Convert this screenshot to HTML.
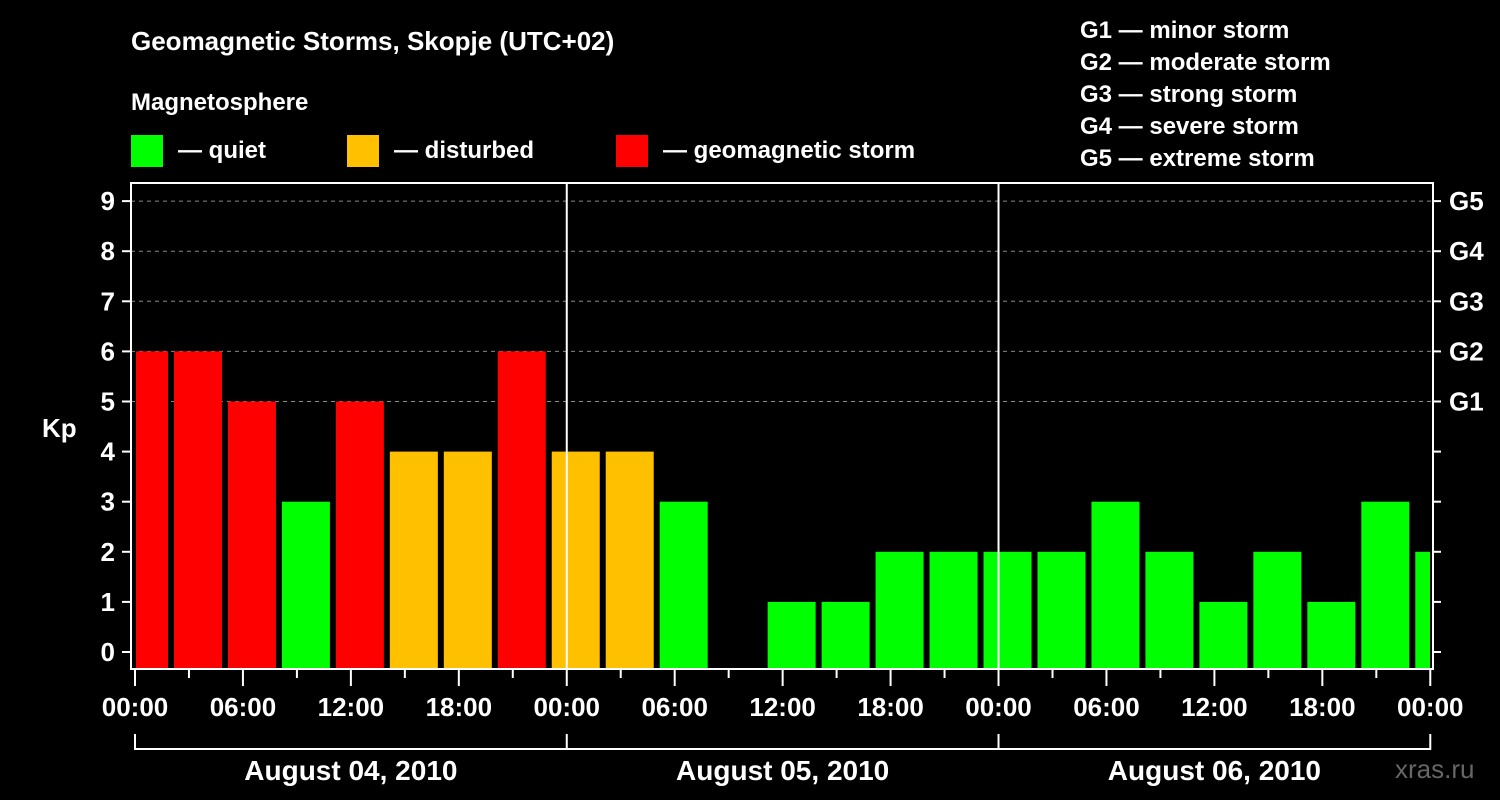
<!DOCTYPE html>
<html><head><meta charset="utf-8"><style>
html,body{margin:0;padding:0;background:#000;}
svg{display:block;font-family:"Liberation Sans",Arial,sans-serif;font-weight:bold;}
</style></head><body>
<svg id="chart" width="1500" height="800" viewBox="0 0 1500 800">
<rect width="1500" height="800" fill="#000"/>
<text x="131" y="50" fill="#fff" font-size="26">Geomagnetic Storms, Skopje (UTC+02)</text>
<text x="131" y="110" fill="#fff" font-size="24">Magnetosphere</text>
<g><rect x="131" y="135" width="32" height="32" fill="#00ff00"/><text x="178" y="158" fill="#fff" font-size="24">— quiet</text></g>
<g><rect x="347" y="135" width="32" height="32" fill="#ffc000"/><text x="394" y="158" fill="#fff" font-size="24">— disturbed</text></g>
<g><rect x="616" y="135" width="32" height="32" fill="#ff0000"/><text x="663" y="158" fill="#fff" font-size="24">— geomagnetic storm</text></g>
<g fill="#fff" font-size="24">
<text x="1080" y="38">G1 — minor storm</text>
<text x="1080" y="70">G2 — moderate storm</text>
<text x="1080" y="102">G3 — strong storm</text>
<text x="1080" y="134">G4 — severe storm</text>
<text x="1080" y="166">G5 — extreme storm</text>
</g>
<text x="42" y="437" fill="#fff" font-size="26">Kp</text>
<text x="1395" y="778" fill="#666" font-size="26" font-weight="normal">xras.ru</text>
<g id="grid"></g>
<g id="bars"></g>
<g id="axes"></g>
</svg>
<script>
const kpValues=[6,6,5,3,5,4,4,6,4,4,3,0,1,1,2,2,2,2,3,2,1,2,1,3,2];
const yTicks=[0,1,2,3,4,5,6,7,8,9];
const gLabels=["G1","G2","G3","G4","G5"];
const xTickLabels=["00:00","06:00","12:00","18:00","00:00","06:00","12:00","18:00","00:00","06:00","12:00","18:00","00:00"];
const dayLabels=["August 04, 2010","August 05, 2010","August 06, 2010"];

const NS="http://www.w3.org/2000/svg";
const L=131,R=1433,T=183,B=669,X0=135,PXH=17.99;
const y=v=>652-v*50.1;
const x=h=>X0+h*PXH;
function mk(tag,attrs,parent,text){const e=document.createElementNS(NS,tag);for(const k in attrs)e.setAttribute(k,attrs[k]);if(text!==undefined)e.textContent=text;parent.appendChild(e);return e;}
const grid=document.getElementById('grid'),bars=document.getElementById('bars'),axes=document.getElementById('axes');
// gridlines
yTicks.forEach(v=>{if(v>=5){const g=mk('line',{x1:L,x2:R,y1:y(v),y2:y(v),stroke:'#888','stroke-dasharray':'4,4','stroke-width':1},grid);

}});
// bars
kpValues.forEach((v,i)=>{
 let x1=x(i*3)-15,x2=x(i*3)+33;x1=Math.max(x1,X0+1);x2=Math.min(x2,R-3);
 const c=v>=5?'#ff0000':(v>=4?'#ffc000':'#00ff00');
 const top=v>0?y(v):B;
 const r=mk('rect',{x:x1,y:top,width:x2-x1,height:Math.max(0,668-top),fill:c},bars);
 
 
});
// frame
const fr=mk('rect',{x:L,y:T,width:R-L,height:B-T,fill:'none',stroke:'#fff','stroke-width':2},axes);


// day separators
[1,2].forEach(d=>{const l=mk('line',{x1:x(d*24),x2:x(d*24),y1:T,y2:B,stroke:'#fff','stroke-width':2},axes);

});
// y ticks
yTicks.forEach(v=>{
 mk('line',{x1:122,x2:L,y1:y(v),y2:y(v),stroke:'#fff','stroke-width':2},axes);
 mk('line',{x1:R,x2:1441,y1:y(v),y2:y(v),stroke:'#fff','stroke-width':2},axes);
 const t=mk('text',{x:115,y:y(v)+9,fill:'#fff','font-size':26,'text-anchor':'end'},axes,String(v));
 
 
});
gLabels.forEach((g,i)=>{const t=mk('text',{x:1449,y:y(i+5)+9,fill:'#fff','font-size':26},axes,g);

});
// x ticks
for(let h=0;h<=72;h+=3){const major=h%6===0;mk('line',{x1:x(h),x2:x(h),y1:B,y2:major?686:678,stroke:'#fff','stroke-width':2},axes);}
xTickLabels.forEach((s,i)=>{const t=mk('text',{x:x(i*6),y:716,fill:'#fff','font-size':26,'text-anchor':'middle'},axes,s);

});
// day brackets
mk('line',{x1:x(0),x2:x(72),y1:749,y2:749,stroke:'#fff','stroke-width':2},axes);
for(let d=0;d<=3;d++)mk('line',{x1:x(d*24),x2:x(d*24),y1:734,y2:750,stroke:'#fff','stroke-width':2},axes);
dayLabels.forEach((s,i)=>{const t=mk('text',{x:x(i*24+12),y:780,fill:'#fff','font-size':28,'text-anchor':'middle'},axes,s);

});
</script>
</body></html>
